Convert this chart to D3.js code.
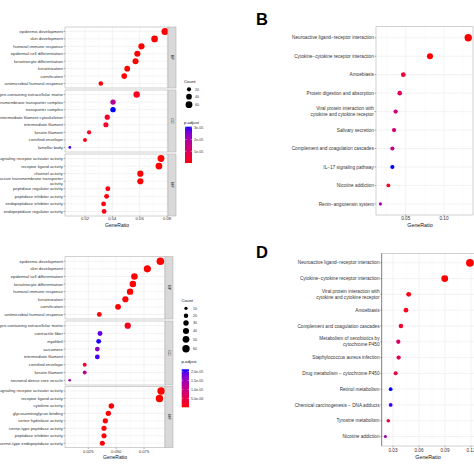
<!DOCTYPE html>
<html><head><meta charset="utf-8">
<script src="https://cdn.jsdelivr.net/npm/d3@7"></script>
<style>body{margin:0;background:#fff}svg{display:block}text{font-family:"Liberation Sans",Arial,sans-serif}</style>
</head><body>
<svg id="c" width="474" height="474"></svg>
<script>
// ---------- Panel A (GO, facets BP/CC/MF) ----------
const aBPTerms = ["epidermis development","skin development","humoral immune response","epidermal cell differentiation","keratinocyte differentiation","keratinization","cornification","antimicrobial humoral response"];
const aBPRatio = [0.0785,0.0709,0.0613,0.0583,0.0570,0.0509,0.0487,0.0316];
const aBPCount = [63,57,49,47,46,41,39,25];
const aBPPadj  = [2e-13,5e-12,1e-9,3e-10,4e-10,2e-9,6e-9,3e-7];
const aCCTerms = ["collagen-containing extracellular matrix","transmembrane transporter complex","transporter complex","intermediate filament cytoskeleton","intermediate filament","keratin filament","cornified envelope","lamellar body"];
const aCCRatio = [0.0578,0.0405,0.0405,0.0363,0.0353,0.0230,0.0200,0.0089];
const aCCCount = [52,36,36,33,32,21,18,8];
const aCCPadj  = [2e-6,1.7e-5,3.1e-5,3e-6,3e-6,2e-6,1e-6,2.9e-5];
const aMFTerms = ["signaling receptor activator activity","receptor ligand activity","channel activity","passive transmembrane transporter\nactivity","peptidase regulator activity","peptidase inhibitor activity","endopeptidase inhibitor activity","endopeptidase regulator activity"];
const aMFRatio = [0.0756,0.0741,0.0605,0.0605,0.0367,0.0358,0.0336,0.0340];
const aMFCount = [60,59,48,48,29,29,27,27];
const aMFPadj  = [1e-9,1e-9,2e-7,2e-7,1e-6,1e-6,1.5e-6,1.5e-6];
const aXTicks = [0.02,0.04,0.06,0.08];
const aXTickLabels = ["0.02","0.04","0.06","0.08"];
const aCountLegend = [20,40,60];
const aPadjTicks = [3e-5,2e-5,1e-5];
const aPadjTickLabels = ["3e-05","2e-05","1e-05"];

// ---------- Panel C ----------
const cBPTerms = ["epidermis development","skin development","epidermal cell differentiation","keratinocyte differentiation","humoral immune response","keratinization","cornification","antimicrobial humoral response"];
const cBPRatio = [0.0897,0.0780,0.0664,0.0650,0.0625,0.0583,0.0517,0.0349];
const cBPCount = [63,55,46,45,44,41,36,24];
const cBPPadj  = [1e-12,1e-11,1e-10,1e-10,1e-9,1e-9,1e-8,2e-7];
const cCCTerms = ["collagen-containing extracellular matrix","contractile fiber","myofibril","sarcomere","intermediate filament","cornified envelope","keratin filament","neuronal dense core vesicle"];
const cCCRatio = [0.0604,0.0355,0.0343,0.0331,0.0331,0.0218,0.0218,0.0083];
const cCCCount = [42,25,24,23,23,15,15,6];
const cCCPadj  = [1e-6,1.9e-5,2.1e-5,1.6e-5,2.0e-5,2e-6,1.1e-5,1.4e-5];
const cMFTerms = ["signaling receptor activator activity","receptor ligand activity","cytokine activity","glycosaminoglycan binding","serine hydrolase activity","serine-type peptidase activity","peptidase inhibitor activity","serine-type endopeptidase activity"];
const cMFRatio = [0.0904,0.0889,0.0457,0.0430,0.0403,0.0391,0.0391,0.0376];
const cMFCount = [62,61,31,30,28,27,27,26];
const cMFPadj  = [1e-10,1e-10,1e-7,2e-7,3e-7,3e-7,3e-7,4e-7];
const cXTicks = [0.025,0.05,0.075];
const cXTickLabels = ["0.025","0.050","0.075"];
const cCountLegend = [10,20,30,40,50,60];
const cPadjTicks = [2.0e-5,1.5e-5,1.0e-5,5.0e-6];
const cPadjTickLabels = ["2.0e-05","1.5e-05","1.0e-05","5.0e-06"];

// ---------- Panel B (KEGG) ----------
const bTerms = ["Neuroactive ligand\u2212receptor interaction","Cytokine\u2212cytokine receptor interaction","Amoebiasis","Protein digestion and absorption","Viral protein interaction with\ncytokine and cytokine receptor","Salivary secretion","Complement and coagulation cascades","IL\u221217 signaling pathway","Nicotine addiction","Renin\u2212angiotensin system"];
const bRatio = [0.1317,0.0817,0.0469,0.0422,0.0369,0.0348,0.0326,0.0326,0.0274,0.0170];
const bCount = [40,25,14,13,11,11,10,10,8,5];
const bPadj  = [1e-8,5e-6,4e-4,8e-4,1.2e-3,1.0e-3,1.3e-3,2.6e-3,2e-4,1.6e-3];
const bXTicks = [0.05,0.10];
const bXTickLabels = ["0.05","0.10"];

// ---------- Panel D (KEGG) ----------
const dTerms = ["Neuroactive ligand\u2212receptor interaction","Cytokine\u2212cytokine receptor interaction","Viral protein interaction with\ncytokine and cytokine receptor","Amoebiasis","Complement and coagulation cascades","Metabolism of xenobiotics by\ncytochrome P450","Staphylococcus aureus infection","Drug metabolism \u2212 cytochrome P450","Retinol metabolism","Chemical carcinogenesis \u2212 DNA adducts","Tyrosine metabolism","Nicotine addiction"];
const dRatio = [0.1188,0.0897,0.0481,0.0450,0.0392,0.0361,0.0365,0.0331,0.0273,0.0273,0.0246,0.0212];
const dCount = [30,23,12,11,10,9,9,8,7,7,6,5];
const dPadj  = [1e-8,1e-6,1e-4,1.5e-4,3e-4,9e-4,6e-4,5e-4,2.5e-3,2.4e-3,4e-4,1.7e-3];
const dXTicks = [0.03,0.06,0.09,0.12];
const dXTickLabels = ["0.03","0.06","0.09","0.12"];

const svg = d3.select("#c");
const GRID = "#ebebeb", GRIDMIN = "#f4f4f4", BORDER = "#b3b3b3", TXT = "#333";

function colorScale(lo, hi){
  return d3.scaleLinear().domain([lo,hi]).range(["red","blue"]).interpolate(d3.interpolateLab).clamp(true);
}

function multiText(sel, x, y, label, fs, lh){
  const lines = label.split("\n");
  const t = sel.append("text").attr("x",x).attr("y",y).attr("text-anchor","end")
    .attr("font-size",fs).attr("fill",TXT);
  lines.forEach((l,i)=>{
    t.append("tspan").attr("x",x).attr("y", y + (i-(lines.length-1)/2)*lh).attr("dy","0.35em").text(l);
  });
}

function drawPlot(g, o){
  // o: x0,x1,y0,y1, terms, ratio, count, padj, x scale, ticks, col, size, fs
  const y = d3.scalePoint().domain(o.terms).range([o.y0,o.y1]).padding(0.6);
  g.append("rect").attr("x",o.x0).attr("y",o.y0).attr("width",o.x1-o.x0).attr("height",o.y1-o.y0).attr("fill","#fff");
  const step = o.ticks[1]-o.ticks[0];
  const minor = [];
  for(let v=o.ticks[0]-step/2; v<=o.x.domain()[1]; v+=step) if(v>=o.x.domain()[0]) minor.push(v);
  g.selectAll(null).data(minor).enter().append("line")
    .attr("x1",d=>o.x(d)).attr("x2",d=>o.x(d)).attr("y1",o.y0).attr("y2",o.y1)
    .attr("stroke",GRIDMIN).attr("stroke-width",0.4);
  g.selectAll(null).data(o.ticks).enter().append("line")
    .attr("x1",d=>o.x(d)).attr("x2",d=>o.x(d)).attr("y1",o.y0).attr("y2",o.y1)
    .attr("stroke",GRID).attr("stroke-width",0.6);
  g.selectAll(null).data(o.terms).enter().append("line")
    .attr("x1",o.x0).attr("x2",o.x1).attr("y1",d=>y(d)).attr("y2",d=>y(d))
    .attr("stroke",GRID).attr("stroke-width",0.6);
  const data = o.terms.map((t,i)=>({t, r:o.ratio[i], c:o.count[i], p:o.padj[i]}));
  const clipId = "clip"+Math.round(o.x0)+"_"+Math.round(o.y0);
  g.append("clipPath").attr("id",clipId).append("rect")
    .attr("x",o.x0).attr("y",o.y0).attr("width",o.x1-o.x0+6).attr("height",o.y1-o.y0);
  g.append("g").attr("clip-path",`url(#${clipId})`).selectAll("circle").data(data).enter().append("circle")
    .attr("cx",d=>o.x(d.r)).attr("cy",d=>y(d.t)).attr("r",d=>o.size(d.c)).attr("fill",d=>o.col(d.p));
  g.append("rect").attr("x",o.x0).attr("y",o.y0).attr("width",o.x1-o.x0).attr("height",o.y1-o.y0)
    .attr("fill","none").attr("stroke",BORDER).attr("stroke-width",0.6);
  if(o.leftLine) g.append("line").attr("x1",o.x0).attr("x2",o.x0).attr("y1",o.y0).attr("y2",o.y1).attr("stroke",o.leftLine).attr("stroke-width",0.7);
  // y ticks + labels
  g.selectAll(null).data(o.terms).enter().append("line")
    .attr("x1",o.x0-1.4).attr("x2",o.x0).attr("y1",d=>y(d)).attr("y2",d=>y(d))
    .attr("stroke",TXT).attr("stroke-width",0.4);
  o.terms.forEach(t=>multiText(g, o.x0-2.2, y(t), t, o.fs, o.fs*1.25));
}

function xAxis(g, o){
  g.selectAll(null).data(o.ticks).enter().append("line")
    .attr("x1",d=>o.x(d)).attr("x2",d=>o.x(d)).attr("y1",o.yb).attr("y2",o.yb+1.4)
    .attr("stroke",TXT).attr("stroke-width",0.4);
  g.selectAll(null).data(o.ticks).enter().append("text")
    .attr("x",d=>o.x(d)).attr("y",o.tickY).attr("text-anchor","middle").attr("dy","0.35em")
    .attr("font-size",o.fs).attr("fill",TXT).text((d,i)=>o.labels[i]);
  g.append("text").attr("x",o.titleX).attr("y",o.titleY).attr("text-anchor","middle").attr("dy","0.35em")
    .attr("font-size",o.titleFs).attr("fill","#111").text("GeneRatio");
}

function strip(g, x0, w, y0, y1, name){
  g.append("rect").attr("x",x0).attr("y",y0).attr("width",w).attr("height",y1-y0)
    .attr("fill","#d9d9d9").attr("stroke",BORDER).attr("stroke-width",0.6);
  g.append("text").attr("transform",`translate(${x0+w/2},${(y0+y1)/2}) rotate(90)`)
    .attr("text-anchor","middle").attr("dy","0.35em").attr("font-size",3.8).attr("fill","#1a1a1a").text(name);
}

function legends(g, L){
  g.append("text").attr("x",L.cx0).attr("y",L.countTitleY).attr("font-size",4.3).attr("fill","#111").attr("dy","0.35em").text("Count");
  L.counts.forEach((c,i)=>{
    g.append("circle").attr("cx",L.dotX).attr("cy",L.dotY[i]).attr("r",L.size(c)).attr("fill","#000");
    g.append("text").attr("x",L.labX).attr("y",L.dotY[i]).attr("dy","0.35em").attr("font-size",3.6).attr("fill",TXT).text(c);
  });
  g.append("text").attr("x",L.cx0).attr("y",L.padjTitleY).attr("font-size",4.3).attr("fill","#111").attr("dy","0.35em").text("p.adjust");
  const gid = "grad"+Math.round(L.barY0);
  const grad = svg.append("defs").append("linearGradient").attr("id",gid).attr("x1",0).attr("x2",0).attr("y1",1).attr("y2",0);
  d3.range(0,1.0001,0.1).forEach(t=>{
    const v = L.col.domain()[0] + t*(L.col.domain()[1]-L.col.domain()[0]);
    grad.append("stop").attr("offset",t).attr("stop-color",L.col(v));
  });
  g.append("rect").attr("x",L.barX).attr("y",L.barY0).attr("width",L.barW).attr("height",L.barY1-L.barY0).attr("fill",`url(#${gid})`);
  const by = d3.scaleLinear().domain(L.col.domain()).range([L.barY1,L.barY0]);
  L.ticks.forEach((v,i)=>{
    g.append("line").attr("x1",L.barX).attr("x2",L.barX+1.5).attr("y1",by(v)).attr("y2",by(v)).attr("stroke","#fff").attr("stroke-width",0.4);
    g.append("line").attr("x1",L.barX+L.barW-1.5).attr("x2",L.barX+L.barW).attr("y1",by(v)).attr("y2",by(v)).attr("stroke","#fff").attr("stroke-width",0.4);
    g.append("text").attr("x",L.barX+L.barW+2).attr("y",by(v)).attr("dy","0.35em").attr("font-size",3.6).attr("fill",TXT).text(L.tickLabels[i]);
  });
}

// ===== Panel A =====
{
  const g = svg.append("g");
  const x = d3.scaleLinear().domain([0.00537,0.08073]).range([65,168]);
  const col = colorScale(0, 3.1e-5);
  const size = d3.scaleSqrt().domain([8,63]).range([1.4,3.5]);
  const facets = [
    {n:"BP",y0:27,y1:88,t:aBPTerms,r:aBPRatio,c:aBPCount,p:aBPPadj},
    {n:"CC",y0:90,y1:152,t:aCCTerms,r:aCCRatio,c:aCCCount,p:aCCPadj},
    {n:"MF",y0:154,y1:216,t:aMFTerms,r:aMFRatio,c:aMFCount,p:aMFPadj}];
  facets.forEach(f=>{
    drawPlot(g,{x0:65,x1:168,y0:f.y0,y1:f.y1,terms:f.t,ratio:f.r,count:f.c,padj:f.p,x,ticks:aXTicks,col,size,fs:4.2});
    strip(g,168,8,f.y0,f.y1,f.n);
  });
  xAxis(g,{x,ticks:aXTicks,labels:aXTickLabels,yb:216,tickY:219,fs:4.2,titleX:117,titleY:225,titleFs:5});
  legends(g,{cx0:184,countTitleY:81,counts:aCountLegend,dotX:189,dotY:[89.3,96.7,104.7],labX:195,size,
    padjTitleY:122,barX:185,barW:7,barY0:126.7,barY1:163,col,ticks:aPadjTicks,tickLabels:aPadjTickLabels});
}

// ===== Panel C =====
{
  const g = svg.append("g");
  const x = d3.scaleLinear().domain([0.00409,0.09385]).range([65,165]);
  const col = colorScale(0, 2.12e-5);
  const size = d3.scaleSqrt().domain([6,63]).range([1.3,3.8]);
  const facets = [
    {n:"BP",y0:256.7,y1:319,t:cBPTerms,r:cBPRatio,c:cBPCount,p:cBPPadj},
    {n:"CC",y0:321,y1:385,t:cCCTerms,r:cCCRatio,c:cCCCount,p:cCCPadj},
    {n:"MF",y0:386.5,y1:447.7,t:cMFTerms,r:cMFRatio,c:cMFCount,p:cMFPadj}];
  facets.forEach(f=>{
    drawPlot(g,{x0:65,x1:165,y0:f.y0,y1:f.y1,terms:f.t,ratio:f.r,count:f.c,padj:f.p,x,ticks:cXTicks,col,size,fs:4.2});
    strip(g,165,8,f.y0,f.y1,f.n);
  });
  xAxis(g,{x,ticks:cXTicks,labels:cXTickLabels,yb:447.7,tickY:451.5,fs:4.2,titleX:115,titleY:457.5,titleFs:5});
  legends(g,{cx0:181.5,countTitleY:300,counts:cCountLegend,dotX:186,dotY:[308.3,315.7,323,331,339.3,348.7],labX:193,size,
    padjTitleY:361,barX:181.7,barW:7.3,barY0:369.3,barY1:407.3,col,ticks:cPadjTicks,tickLabels:cPadjTickLabels});
}

// ===== Panel B =====
{
  const g = svg.append("g");
  g.append("text").attr("x",256).attr("y",25).attr("font-family","'Liberation Serif','DejaVu Serif',serif")
    .attr("font-weight","bold").attr("font-size",16.5).attr("fill","#000").text("B");
  const x = d3.scaleLinear().domain([0.01123,0.1379]).range([376,473]);
  const col = colorScale(d3.min(bPadj), d3.max(bPadj));
  const size = d3.scaleSqrt().domain([5,40]).range([1.6,3.7]);
  drawPlot(g,{x0:376,x1:473,y0:26.7,y1:215,terms:bTerms,ratio:bRatio,count:bCount,padj:bPadj,x,ticks:bXTicks,col,size,fs:4.7});
  xAxis(g,{x,ticks:bXTicks,labels:bXTickLabels,yb:215,tickY:218.5,fs:4.7,titleX:420,titleY:225,titleFs:5.3});
}

// ===== Panel D =====
{
  const g = svg.append("g");
  g.append("text").attr("x",256).attr("y",257.5).attr("font-family","'Liberation Serif','DejaVu Serif',serif")
    .attr("font-weight","bold").attr("font-size",16.5).attr("fill","#000").text("D");
  const x = d3.scaleLinear().domain([0.01696,0.1304]).range([381.7,480]);
  const col = colorScale(d3.min(dPadj), d3.max(dPadj));
  const size = d3.scaleSqrt().domain([5,30]).range([1.6,3.9]);
  drawPlot(g,{x0:381.7,x1:480,y0:253.3,y1:446,terms:dTerms,ratio:dRatio,count:dCount,padj:dPadj,x,ticks:dXTicks,col,size,fs:4.7,leftLine:"#666"});
  xAxis(g,{x,ticks:dXTicks,labels:dXTickLabels,yb:446,tickY:450.5,fs:4.7,titleX:428,titleY:457.5,titleFs:5.3});
}
</script></body></html>
